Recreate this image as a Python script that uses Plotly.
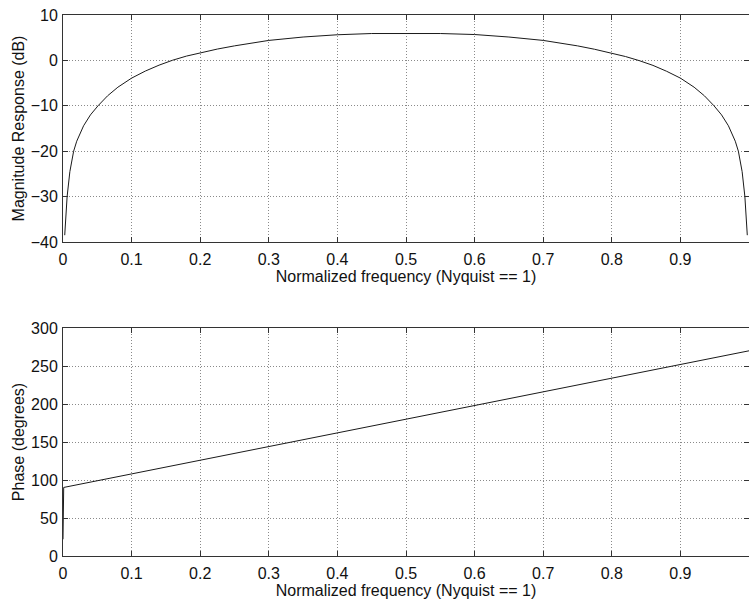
import plotly.graph_objects as go
from plotly.subplots import make_subplots

# Frequency response of an FIR Hilbert transformer (normalized frequency, Nyquist == 1)
mag_freq = [0.0025, 0.004, 0.006, 0.01, 0.0155, 0.02, 0.03, 0.04, 0.051, 0.065,
            0.08, 0.1, 0.12, 0.14, 0.16, 0.18, 0.2, 0.225, 0.25, 0.275, 0.3,
            0.35, 0.4, 0.45, 0.5, 0.55, 0.6, 0.65, 0.7, 0.725, 0.75, 0.775,
            0.8, 0.82, 0.84, 0.86, 0.88, 0.9, 0.92, 0.935, 0.949, 0.96, 0.97,
            0.98, 0.9845, 0.99, 0.994, 0.996, 0.9975]
mag_db = [-38.5, -34.0, -30.0, -24.5, -20.0, -17.8, -14.4, -12.0, -10.0, -7.8,
          -5.9, -3.9, -2.35, -1.05, 0.05, 0.95, 1.65, 2.5, 3.2, 3.85, 4.4,
          5.15, 5.65, 5.92, 6.0, 5.92, 5.7, 5.15, 4.4, 3.85, 3.2, 2.45,
          1.55, 0.85, -0.05, -1.1, -2.4, -3.9, -5.9, -7.8, -10.0, -12.0, -14.4,
          -17.8, -20.0, -24.5, -30.0, -34.0, -38.5]

phase_freq = [0.0, 0.001, 0.1, 0.2, 0.3, 0.4, 0.5, 0.6, 0.7, 0.8, 0.9, 1.0]
phase_deg = [22, 90.2, 108, 126, 144, 162, 180, 198, 216, 234, 252, 270]

x_ticks = [0, 0.1, 0.2, 0.3, 0.4, 0.5, 0.6, 0.7, 0.8, 0.9, 1]
x_tick_text = ["0", "0.1", "0.2", "0.3", "0.4", "0.5", "0.6", "0.7", "0.8", "0.9", "1"]
mag_ticks = [-40, -30, -20, -10, 0, 10]
phase_ticks = [0, 50, 100, 150, 200, 250, 300]

W, H = 749, 601
FONT = "Liberation Sans, Arial, Helvetica, sans-serif"
FS = 16

# pixel frame of the two axes boxes
ML, MT, MB = 63, 15, 45
top1, bot1 = 15, 242
top2, bot2 = 328, 556
ph = H - MT - MB

fig = make_subplots(rows=2, cols=1)

fig.add_trace(go.Scatter(x=mag_freq, y=mag_db, mode="lines",
                         line=dict(color="#1a1a1a", width=1), showlegend=False),
              row=1, col=1)
fig.add_trace(go.Scatter(x=phase_freq, y=phase_deg, mode="lines",
                         line=dict(color="#1a1a1a", width=1), showlegend=False),
              row=2, col=1)

axis_common = dict(
    showline=True, linecolor="#333", linewidth=1, mirror="ticks",
    ticks="inside", ticklen=5, tickcolor="#333", tickwidth=1,
    showgrid=True, gridcolor="#8a8a8a", griddash="1px,2px", gridwidth=1,
    zeroline=False, tickfont=dict(family=FONT, size=FS, color="#111"),
    automargin=False,
)

def xtitle():
    return dict(text="Normalized frequency (Nyquist == 1)",
                font=dict(family=FONT, size=FS, color="#111"), standoff=2)

def ytitle(t):
    return dict(text=t, font=dict(family=FONT, size=FS, color="#111"), standoff=2)

fig.update_layout(
    width=W, height=H,
    margin=dict(l=ML, r=0, t=MT, b=MB),
    paper_bgcolor="white", plot_bgcolor="white",
    font=dict(family=FONT, size=FS, color="#111"),
    xaxis=dict(axis_common, domain=[0, 1], range=[0, 1],
               tickvals=x_ticks, ticktext=x_tick_text, ticklabelstandoff=3,
               title=xtitle()),
    yaxis=dict(axis_common, domain=[1 - (bot1 - MT) / ph, 1 - (top1 - MT) / ph],
               range=[-40, 10], tickvals=mag_ticks, ticklabelstandoff=1,
               title=ytitle("Magnitude Response (dB)")),
    xaxis2=dict(axis_common, domain=[0, 1], range=[0, 1],
                tickvals=x_ticks, ticktext=x_tick_text, ticklabelstandoff=3,
                title=xtitle()),
    yaxis2=dict(axis_common, domain=[1 - (bot2 - MT) / ph, 1 - (top2 - MT) / ph],
                range=[0, 300], tickvals=phase_ticks, ticklabelstandoff=1,
                title=ytitle("Phase (degrees)")),
)

fig.write_html("out.html")
